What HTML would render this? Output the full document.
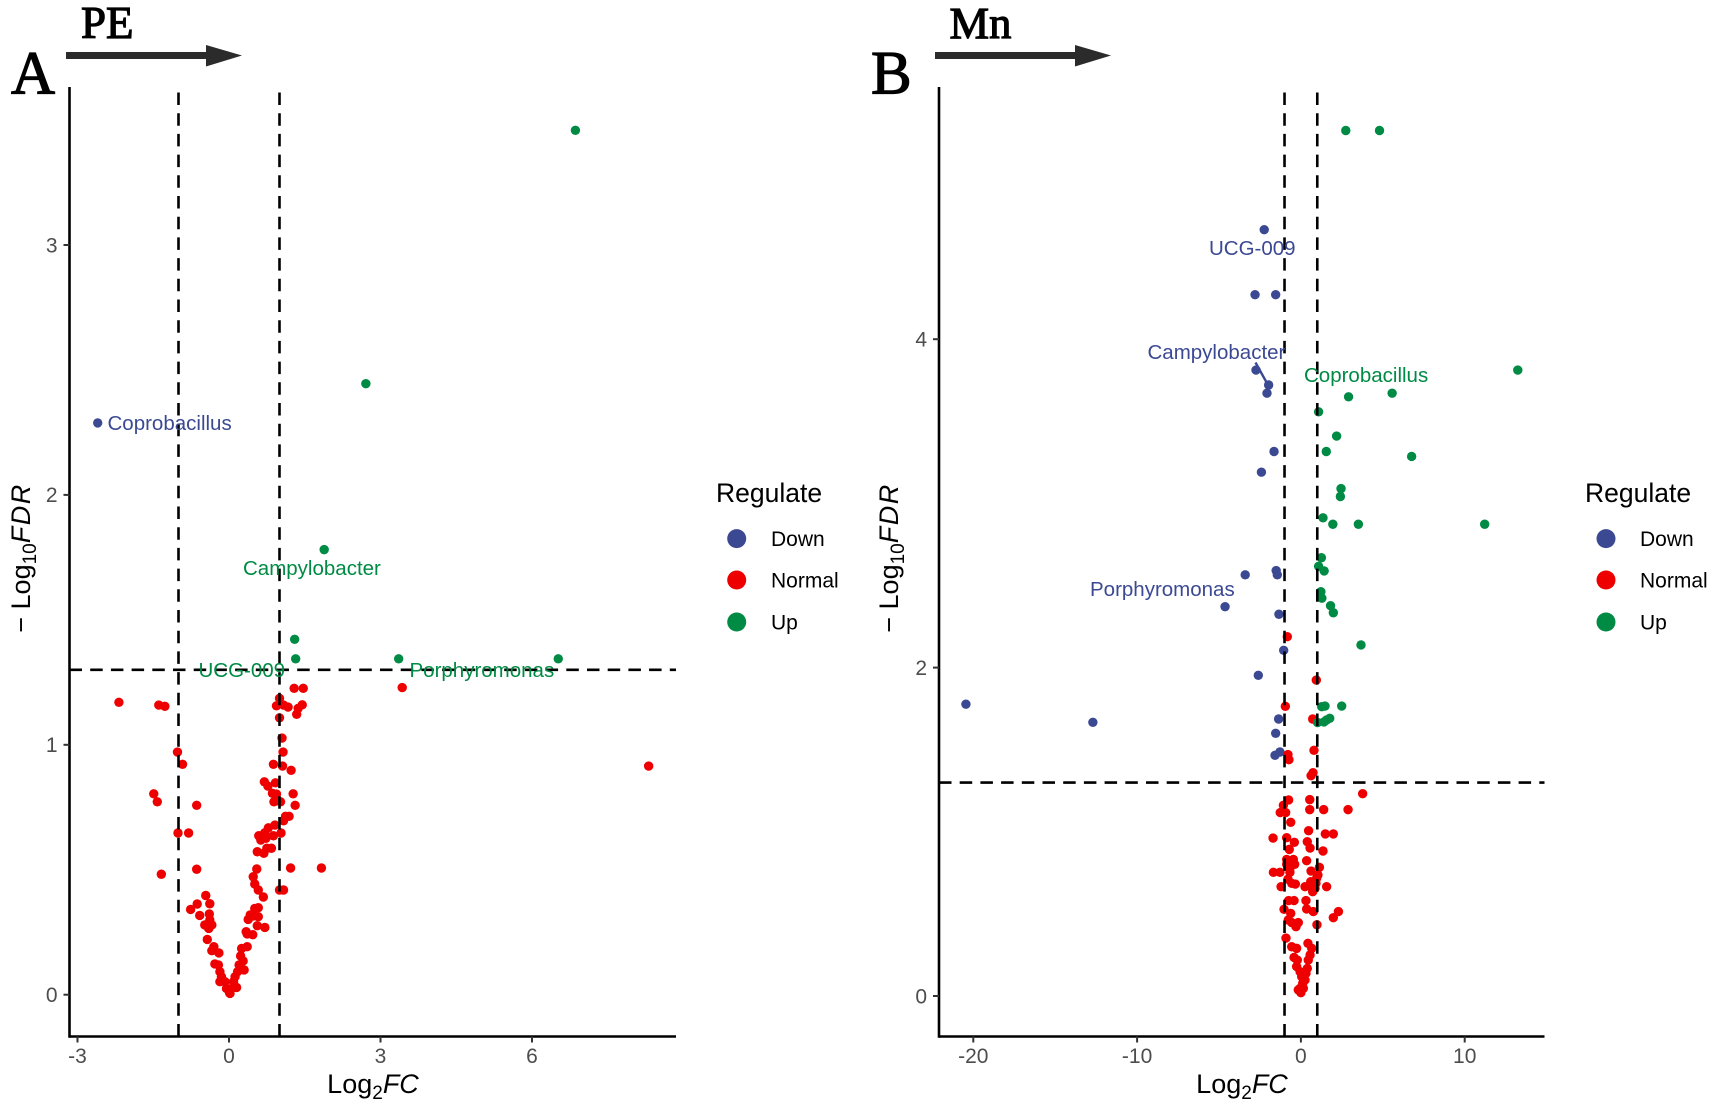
<!DOCTYPE html>
<html lang="en">
<head>
<meta charset="utf-8">
<title>Volcano plots: PE and Mn</title>
<style>
html,body{margin:0;padding:0;background:#fff;width:1713px;height:1106px;overflow:hidden}
svg{display:block;font-family:"Liberation Sans",sans-serif}
.tick{fill:#4d4d4d;font-size:21px}
.title{fill:#000;font-size:27px}
.leg{fill:#000;font-size:21px}
.legt{fill:#000;font-size:26.5px}
.lab{font-size:20.5px}
.hdr{font-family:"Liberation Serif",serif;fill:#000;stroke:#000;stroke-width:1.2px}
</style>
</head>
<body>
<svg id="chart" xmlns="http://www.w3.org/2000/svg" width="1713" height="1106" viewBox="0 0 1713 1106">
  <rect width="1713" height="1106" fill="#fff"/>

  <text class="hdr" x="11" y="93.5" font-size="61">A</text>
  <text class="hdr" x="81" y="38" font-size="45">PE</text>
  <polygon points="66,52 206,52 206,45 242,55.5 206,66.5 206,59 66,59" fill="#2b2b2b"/>

  <text class="hdr" x="871" y="93.5" font-size="61">B</text>
  <text class="hdr" x="949.5" y="38" font-size="44.5">Mn</text>
  <polygon points="935,52 1075,52 1075,45 1111,55.5 1075,66.5 1075,59 935,59" fill="#2b2b2b"/>

  <g id="panelA"></g>
  <g id="panelB"></g>

  <text class="title" x="373" y="1093" text-anchor="middle">Log<tspan font-size="19" dy="6">2</tspan><tspan font-style="italic" dy="-6">FC</tspan></text>
  <text class="title" transform="translate(30,558) rotate(-90)" text-anchor="middle">− Log<tspan font-size="19" dy="6">10</tspan><tspan font-style="italic" dy="-6" letter-spacing="1.5">FDR</tspan></text>
  <text class="title" x="1242" y="1093" text-anchor="middle">Log<tspan font-size="19" dy="6">2</tspan><tspan font-style="italic" dy="-6">FC</tspan></text>
  <text class="title" transform="translate(898,558) rotate(-90)" text-anchor="middle">− Log<tspan font-size="19" dy="6">10</tspan><tspan font-style="italic" dy="-6" letter-spacing="1.5">FDR</tspan></text>

  <g>
    <text class="legt" x="716" y="502">Regulate</text>
    <circle cx="736.7" cy="538.6" r="9.5" fill="#3B4992"/>
    <text class="leg" x="771" y="546">Down</text>
    <circle cx="736.7" cy="580" r="9.5" fill="#EE0000"/>
    <text class="leg" x="771" y="587.5">Normal</text>
    <circle cx="736.7" cy="622" r="9.5" fill="#008B45"/>
    <text class="leg" x="771" y="629.5">Up</text>
  </g>
  <g>
    <text class="legt" x="1585" y="502">Regulate</text>
    <circle cx="1606" cy="538.6" r="9.5" fill="#3B4992"/>
    <text class="leg" x="1640" y="546">Down</text>
    <circle cx="1606" cy="580" r="9.5" fill="#EE0000"/>
    <text class="leg" x="1640" y="587.5">Normal</text>
    <circle cx="1606" cy="622" r="9.5" fill="#008B45"/>
    <text class="leg" x="1640" y="629.5">Up</text>
  </g>
</svg>

<script>
const panelAXTicks = [-3, 0, 3, 6];
const panelAYTicks = [0, 1, 2, 3];
const panelBXTicks = [-20, -10, 0, 10];
const panelBYTicks = [0, 2, 4];
const foldThresholds = [-1, 1];
const fdrThreshold = [1.3];

const panelADown = [[-2.60,2.288]];
const panelAUp = [[6.86,3.459],[2.71,2.445],[1.885,1.781],[1.30,1.422],[1.32,1.344],[3.36,1.344],[6.52,1.344]];
const panelANormal = [
[1.29,1.226],[1.47,1.226],[1.00,1.186],[0.94,1.156],[1.08,1.159],[1.17,1.151],[1.37,1.146],[1.45,1.160],[1.34,1.122],[1.00,1.108],
[1.05,1.027],[1.07,0.971],[0.88,0.922],[1.06,0.915],[1.23,0.898],[0.70,0.852],[0.77,0.835],[0.92,0.848],[1.27,0.804],[0.86,0.806],
[0.94,0.803],[0.89,0.772],[1.02,0.772],[1.31,0.758],[1.19,0.714],[1.12,0.714],[1.08,0.696],[0.91,0.679],[0.78,0.668],[0.71,0.648],
[1.03,0.647],[0.59,0.636],[0.63,0.619],[0.73,0.626],[0.88,0.636],[0.56,0.572],[0.69,0.566],[0.75,0.586],[0.84,0.586],[0.55,0.503],
[0.48,0.472],[0.51,0.443],[0.58,0.419],[0.68,0.391],[1.00,0.419],[1.08,0.419],[1.22,0.507],[1.83,0.507],
[0.58,0.348],[0.51,0.345],[0.42,0.319],[0.38,0.301],[0.48,0.315],[0.58,0.312],[0.56,0.276],[0.71,0.269],[0.34,0.252],[0.36,0.243],
[0.47,0.240],[0.36,0.192],[0.25,0.185],[0.23,0.155],[0.28,0.135],[0.20,0.119],[0.30,0.099],[0.17,0.092],[0.12,0.072],[0.09,0.052],
[0.15,0.029],[0.05,0.025],[0.02,0.005],
[-0.46,0.397],[-0.38,0.364],[-0.63,0.363],[-0.76,0.341],[-0.58,0.317],[-0.39,0.323],[-0.38,0.299],[-0.48,0.279],[-0.34,0.279],[-0.40,0.265],
[-0.43,0.221],[-0.30,0.192],[-0.34,0.176],[-0.20,0.167],[-0.28,0.123],[-0.21,0.119],[-0.18,0.092],[-0.15,0.072],[-0.18,0.052],[-0.08,0.052],
[-0.05,0.025],[0.01,0.008],
[-1.02,0.971],[-0.92,0.922],[-1.01,0.647],[-0.80,0.647],[-0.64,0.758],[-0.64,0.502],[-1.34,0.482],[-1.49,0.804],[-1.42,0.772],[-1.39,1.159],
[-1.27,1.154],[-2.18,1.17],[3.43,1.229],[8.31,0.915]
];

const panelBDown = [
[-20.45,1.777],[-12.70,1.667],[-3.40,2.565],[-1.51,2.591],[-1.44,2.565],[-4.63,2.371],[-1.34,2.325],[-2.24,4.667],[-2.80,4.271],[-1.54,4.271],
[-2.74,3.812],[-1.97,3.721],[-2.07,3.671],[-1.64,3.316],[-2.41,3.190],[-1.05,2.105],[-2.60,1.953],[-1.36,1.687],[-1.54,1.600],[-1.58,1.466],[-1.28,1.486]
];
const panelBUp = [
[2.74,5.271],[4.80,5.271],[13.24,3.812],[2.91,3.649],[5.57,3.671],[1.08,3.558],[2.18,3.410],[1.55,3.316],[6.76,3.286],[2.45,3.090],
[2.41,3.042],[1.35,2.912],[1.95,2.873],[3.51,2.873],[11.22,2.873],[1.25,2.669],[1.08,2.617],[1.42,2.589],[1.22,2.462],[1.28,2.423],
[1.81,2.377],[1.98,2.334],[3.67,2.138],[1.27,1.762],[1.47,1.766],[2.49,1.766],[1.02,1.665],[1.41,1.669],[1.57,1.681],[1.76,1.691]
];
const panelBNormal = [
[-0.83,2.188],[0.94,1.924],[-0.95,1.764],[0.72,1.687],[-0.79,1.470],[-0.73,1.439],[0.80,1.496],[0.74,1.360],[0.62,1.342],[3.77,1.232],
[-0.75,1.194],[0.54,1.196],[-1.07,1.161],[-1.26,1.117],[-0.93,1.117],[0.54,1.135],[1.39,1.135],[2.88,1.135],[-0.62,1.058],[0.47,1.007],
[1.49,0.987],[1.98,0.987],[-1.70,0.962],[-0.87,0.964],[-0.40,0.936],[0.39,0.940],[0.56,0.901],[-0.71,0.893],[1.35,0.883],[0.35,0.824],
[-0.87,0.832],[-0.46,0.832],[-0.38,0.802],[-0.87,0.802],[-0.67,0.778],[1.13,0.784],[0.62,0.761],[-1.68,0.753],[-1.28,0.753],[-0.67,0.753],
[1.04,0.737],[-0.79,0.711],[0.96,0.717],[0.60,0.696],[-0.56,0.686],[-0.34,0.682],[0.92,0.686],[-1.21,0.666],[0.25,0.666],[1.57,0.666],
[0.66,0.666],[0.86,0.656],[0.72,0.635],[-0.75,0.581],[-0.42,0.581],[0.31,0.581],[0.35,0.530],[-1.03,0.528],[-0.62,0.503],[0.76,0.514],
[2.29,0.514],[1.98,0.477],[-0.77,0.463],[-0.16,0.447],[-0.56,0.447],[-0.30,0.422],[0.98,0.434],[-0.91,0.353],[-0.56,0.300],[-0.26,0.290],
[0.43,0.321],[0.66,0.290],[0.56,0.250],[0.45,0.219],[-0.42,0.235],[-0.22,0.219],[-0.26,0.179],[0.39,0.168],[-0.05,0.148],[0.31,0.138],
[0.05,0.118],[0.25,0.097],[0.11,0.077],[-0.05,0.047],[0.15,0.047],[0.00,0.020],[-0.16,0.037]
];

const SVGNS = 'http://www.w3.org/2000/svg';
function make(tag, parent, attrs) {
  const el = document.createElementNS(SVGNS, tag);
  for (const k in attrs) el.setAttribute(k, attrs[k]);
  parent.appendChild(el);
  return el;
}

function drawPanel(cfg) {
  const g = document.getElementById(cfg.id);
  const xs = v => cfg.x0 + v * cfg.xUnit;
  const ys = v => cfg.y0 - v * cfg.yUnit;

  [['down', cfg.down, '#3B4992'], ['normal', cfg.normal, '#EE0000'], ['up', cfg.up, '#008B45']].forEach(group => {
    group[1].forEach(p => {
      const c = make('circle', g, { cx: xs(p[0]).toFixed(2), cy: ys(p[1]).toFixed(2), r: 4.7, fill: group[2] });
      
      
    });
  });

  foldThresholds.forEach(t => {
    const l = make('line', g, { x1: xs(t), x2: xs(t), y1: cfg.bottom, y2: cfg.top, stroke: '#000', 'stroke-width': 2.6, 'stroke-dasharray': '12.5 8.2' });
    
    
  });
  fdrThreshold.forEach(t => {
    const l = make('line', g, { x1: cfg.left, x2: cfg.right, y1: ys(t), y2: ys(t), stroke: '#000', 'stroke-width': 2.6, 'stroke-dasharray': '12.5 8.2' });
    
    
  });

  const yAxis = make('line', g, { x1: cfg.left, x2: cfg.left, y1: cfg.top, y2: cfg.bottom + 1.3, stroke: '#000', 'stroke-width': 2.6 });
  
  
  const xAxis = make('line', g, { x1: cfg.left, x2: cfg.right, y1: cfg.bottom, y2: cfg.bottom, stroke: '#000', 'stroke-width': 2.6 });
  
  

  cfg.xTicks.forEach(v => {
    const tm = make('line', g, { x1: xs(v), x2: xs(v), y1: cfg.bottom, y2: cfg.bottom + 6, stroke: '#333', 'stroke-width': 2 });
    
    
    const tl = make('text', g, { x: xs(v), y: 1063, 'text-anchor': 'middle', class: 'tick' });
    
    
    tl.textContent = v;
  });
  cfg.yTicks.forEach(v => {
    const tm = make('line', g, { x1: cfg.left - 6, x2: cfg.left, y1: ys(v), y2: ys(v), stroke: '#333', 'stroke-width': 2 });
    
    
    const tl = make('text', g, { x: cfg.left - 12, y: ys(v) + 7.3, 'text-anchor': 'end', class: 'tick' });
    
    
    tl.textContent = v;
  });
}

drawPanel({ id: 'panelA', x0: 229, xUnit: 50.5, y0: 994.7, yUnit: 249.9, left: 69.5, right: 676, top: 87, bottom: 1036.5,
  xTicks: panelAXTicks, yTicks: panelAYTicks, down: panelADown, normal: panelANormal, up: panelAUp });
drawPanel({ id: 'panelB', x0: 1300.9, xUnit: 16.38, y0: 996, yUnit: 164.2, left: 939, right: 1544.5, top: 87, bottom: 1036.5,
  xTicks: panelBXTicks, yTicks: panelBYTicks, down: panelBDown, normal: panelBNormal, up: panelBUp });
</script>

<svg style="position:absolute;left:0;top:0" xmlns="http://www.w3.org/2000/svg" width="1713" height="1106" viewBox="0 0 1713 1106">
  <text class="lab" x="107.5" y="430" fill="#3B4992">Coprobacillus</text>
  <text class="lab" x="243" y="575" fill="#008B45">Campylobacter</text>
  <text class="lab" x="198.5" y="677" fill="#008B45">UCG-009</text>
  <text class="lab" x="409.5" y="677" fill="#008B45">Porphyromonas</text>
  <text class="lab" x="1209" y="255" fill="#3B4992">UCG-009</text>
  <text class="lab" x="1147.5" y="359" fill="#3B4992">Campylobacter</text>
  <line x1="1255.5" y1="362.5" x2="1268" y2="385" stroke="#3B4992" stroke-width="2.4"/>
  <text class="lab" x="1304" y="382" fill="#008B45">Coprobacillus</text>
  <text class="lab" x="1090" y="596" fill="#3B4992">Porphyromonas</text>
</svg>
</body>
</html>
